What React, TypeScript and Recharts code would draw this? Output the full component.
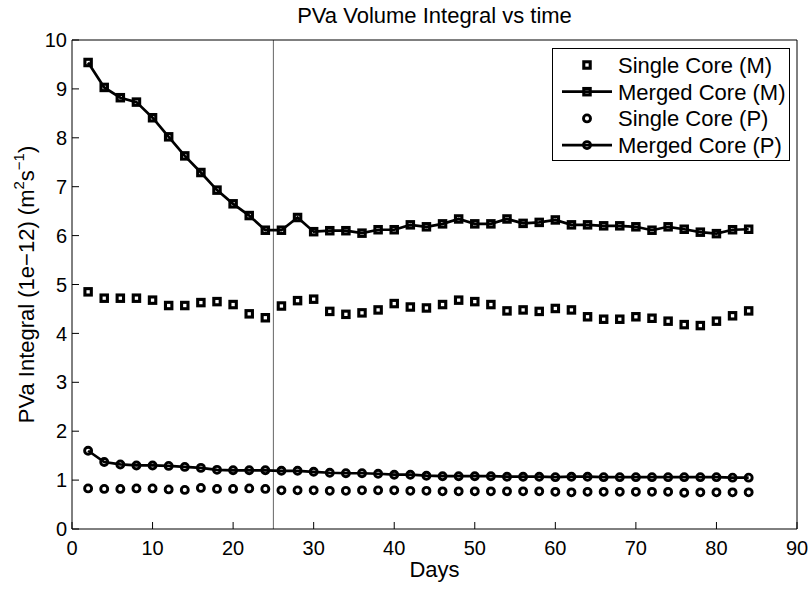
import { LineChart, Line, XAxis, YAxis, ReferenceLine, Legend } from "recharts";

// days sampled every 2 days
const days = [
  2, 4, 6, 8, 10, 12, 14, 16, 18, 20, 22, 24, 26, 28, 30, 32, 34, 36, 38, 40, 42,
  44, 46, 48, 50, 52, 54, 56, 58, 60, 62, 64, 66, 68, 70, 72, 74, 76, 78, 80, 82, 84,
];

const singleCoreM = [
  4.85, 4.72, 4.72, 4.72, 4.68, 4.57, 4.57, 4.63, 4.65, 4.59,
  4.4, 4.32, 4.56, 4.67, 4.7, 4.45, 4.39, 4.42, 4.48, 4.61,
  4.54, 4.52, 4.59, 4.68, 4.65, 4.59, 4.46, 4.48, 4.45, 4.51,
  4.48, 4.34, 4.29, 4.29, 4.34, 4.31, 4.25, 4.18, 4.16, 4.25,
  4.36, 4.46,
];

const mergedCoreM = [
  9.54, 9.03, 8.82, 8.73, 8.41, 8.02, 7.63, 7.29, 6.93, 6.65,
  6.41, 6.11, 6.11, 6.37, 6.08, 6.1, 6.1, 6.05, 6.12, 6.12,
  6.22, 6.18, 6.24, 6.34, 6.24, 6.24, 6.34, 6.25, 6.27, 6.32,
  6.22, 6.22, 6.2, 6.2, 6.18, 6.11, 6.18, 6.13, 6.07, 6.04,
  6.12, 6.13,
];

const singleCoreP = [
  0.83, 0.82, 0.82, 0.83, 0.83, 0.81, 0.8, 0.84, 0.82, 0.82,
  0.83, 0.82, 0.79, 0.79, 0.79, 0.78, 0.78, 0.79, 0.79, 0.79,
  0.78, 0.78, 0.77, 0.77, 0.77, 0.77, 0.77, 0.77, 0.77, 0.76,
  0.75, 0.76, 0.76, 0.76, 0.76, 0.76, 0.76, 0.74, 0.75, 0.75,
  0.75, 0.75,
];

const mergedCoreP = [
  1.6, 1.37, 1.32, 1.3, 1.3, 1.29, 1.27, 1.25, 1.21, 1.2,
  1.2, 1.2, 1.19, 1.19, 1.17, 1.15, 1.14, 1.14, 1.13, 1.11,
  1.11, 1.09, 1.08, 1.08, 1.08, 1.08, 1.07, 1.07, 1.07, 1.06,
  1.07, 1.07, 1.06, 1.06, 1.06, 1.06, 1.06, 1.06, 1.06, 1.06,
  1.05, 1.05,
];

const xTicks = [0, 10, 20, 30, 40, 50, 60, 70, 80, 90];
const yTicks = [0, 1, 2, 3, 4, 5, 6, 7, 8, 9, 10];
const mergeDay = 25;

const seriesInfo = [
  { key: "singleM", name: "Single Core (M)", marker: "square", line: false },
  { key: "mergedM", name: "Merged Core (M)", marker: "square", line: true },
  { key: "singleP", name: "Single Core (P)", marker: "circle", line: false },
  { key: "mergedP", name: "Merged Core (P)", marker: "circle", line: true },
];

const rows = days.map((d, i) => ({
  day: d,
  singleM: singleCoreM[i],
  mergedM: mergedCoreM[i],
  singleP: singleCoreP[i],
  mergedP: mergedCoreP[i],
}));

const FONT = '"Liberation Sans", Arial, Helvetica, sans-serif';

const SquareDot = (props: any) => {
  const { cx, cy, index, dataKey } = props;
  if (cx == null || cy == null) return null;
  return (
    <rect
      key={`${dataKey}-${index}`}
      x={cx - 3.2}
      y={cy - 3.2}
      width={6.4}
      height={6.4}
      fill="none"
      stroke="#000"
      strokeWidth={3.1}
    />
  );
};

const circleDot = { r: 3.5, fill: "none", stroke: "#000", strokeWidth: 2.9 };

function Marker({ type, x, y }: { type: string; x: number; y: number }) {
  if (type === "square")
    return <rect x={x - 3.2} y={y - 3.2} width={6.4} height={6.4} fill="none" stroke="#000" strokeWidth={3.1} />;
  return <circle cx={x} cy={y} r={3.5} fill="none" stroke="#000" strokeWidth={2.9} />;
}

function LegendBox() {
  return (
    <svg width={238} height={113} style={{ display: "block" }}>
      <rect x={0.5} y={0.5} width={237} height={112} fill="#fff" stroke="#000" strokeWidth={1} />
      {seriesInfo.map((s, i) => {
        const cy = 17 + i * 26.7;
        return (
          <g key={s.key}>
            {s.line && <line x1={10} x2={60} y1={cy} y2={cy} stroke="#000" strokeWidth={2.7} />}
            <Marker type={s.marker} x={35} y={cy} />
            <text x={66} y={cy} dy="0.36em" fontSize={22} fontFamily={FONT} fill="#000">
              {s.name}
            </text>
          </g>
        );
      })}
    </svg>
  );
}

function YLabel(props: any) {
  const vb = props.viewBox || { x: 0, y: 40, width: 72, height: 489 };
  const cx = vb.x + 26;
  const cy = vb.y + vb.height / 2;
  return (
    <text
      x={cx}
      y={cy}
      transform={`rotate(-90 ${cx} ${cy})`}
      textAnchor="middle"
      dominantBaseline="central"
      fontSize={22}
      fontFamily={FONT}
      fill="#000"
    >
      <tspan>PVa Integral (1e−12) (m</tspan>
      <tspan dy={-8} fontSize={15}>2</tspan>
      <tspan dy={8}>s</tspan>
      <tspan dy={-8} fontSize={15}>−1</tspan>
      <tspan dy={8}>)</tspan>
    </text>
  );
}

export default function App() {
  const tickStyle = { fill: "#000", fontSize: 20, fontFamily: FONT };
  return (
    <div style={{ position: "absolute", left: 0, top: 0, width: 811, height: 590, background: "#fff" }}>
      <LineChart width={811} height={590} data={rows} margin={{ top: 40, right: 14, bottom: 0, left: 0 }}>
        <XAxis
          dataKey="day"
          type="number"
          domain={[0, 90]}
          ticks={xTicks}
          height={61}
          stroke="#000"
          tickSize={-7}
          tickMargin={19}
          tick={tickStyle}
          label={{ value: "Days", position: "insideBottom", offset: 13, fill: "#000", fontSize: 22, fontFamily: FONT }}
        />
        <XAxis
          xAxisId="top"
          orientation="top"
          dataKey="day"
          type="number"
          domain={[0, 90]}
          ticks={xTicks}
          height={1}
          mirror
          stroke="#000"
          tickSize={7}
          tick={false}
          label={{ value: "PVa Volume Integral vs time", position: "top", offset: 17, fill: "#000", fontSize: 22, fontFamily: FONT }}
        />
        <YAxis
          type="number"
          domain={[0, 10]}
          ticks={yTicks}
          width={72}
          stroke="#000"
          tickSize={-7}
          tickMargin={12}
          tick={tickStyle}
          label={<YLabel />}
        />
        <YAxis
          yAxisId="right"
          orientation="right"
          type="number"
          domain={[0, 10]}
          ticks={yTicks}
          width={1}
          mirror
          stroke="#000"
          tickSize={7}
          tick={false}
        />
        <ReferenceLine x={mergeDay} stroke="#666" strokeWidth={1} />
        <Line
          dataKey="singleM"
          stroke="none"
          dot={SquareDot}
          activeDot={false}
          isAnimationActive={false}
        />
        <Line
          dataKey="mergedM"
          stroke="#000"
          strokeWidth={2.7}
          dot={SquareDot}
          activeDot={false}
          isAnimationActive={false}
        />
        <Line
          dataKey="singleP"
          stroke="none"
          dot={circleDot}
          activeDot={false}
          isAnimationActive={false}
        />
        <Line
          dataKey="mergedP"
          stroke="#000"
          strokeWidth={2.7}
          dot={circleDot}
          activeDot={false}
          isAnimationActive={false}
        />
        <Legend
          layout="vertical"
          align="center"
          verticalAlign="middle"
          content={() => <LegendBox />}
          wrapperStyle={{ position: "absolute", left: 552, top: 48, width: 238, height: 113 }}
        />
      </LineChart>
    </div>
  );
}
